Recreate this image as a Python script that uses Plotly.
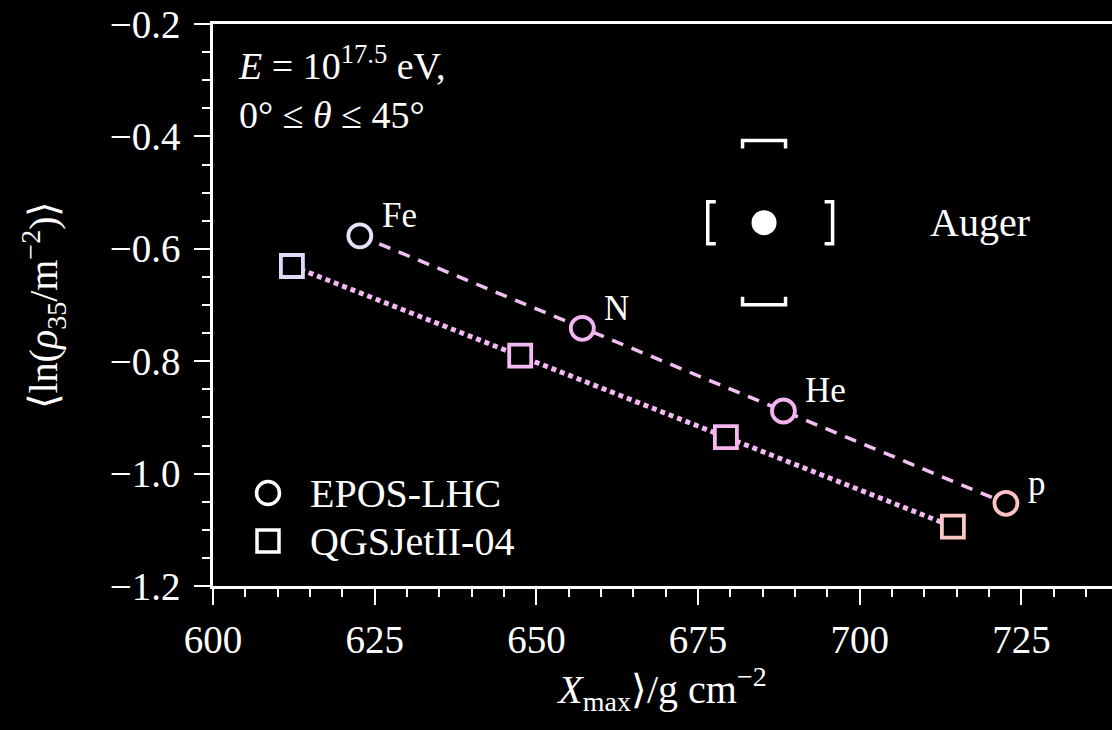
import plotly.graph_objects as go

# Mean ln(rho_35) versus Xmax for four primaries and two hadronic models
elements = ["Fe", "N", "He", "p"]
epos_xmax = [622.7, 657.1, 688.2, 722.6]
epos_lnrho = [-0.577, -0.7415, -0.8886, -1.0529]
qgs_xmax = [612.2, 647.5, 679.3, 714.4]
qgs_lnrho = [-0.6306, -0.790, -0.935, -1.0945]

# Auger measurement with systematic uncertainties
auger_xmax = 685.2
auger_lnrho = -0.5535
auger_xmax_sys_lo = 8.7
auger_xmax_sys_hi = 10.6
auger_lnrho_sys = 0.146

epos_colors = ["#e6e2fa", "#f2b6f2", "#f5b2ee", "#fcc2c6"]
qgs_colors = ["#dedaf9", "#f4baf4", "#f7b6ee", "#fcc6c4"]
line_dash_color = "#f2bff2"
line_dot_color = "#f5b8f5"

FONT = "Liberation Serif"
W, H = 1112, 730
ML, MR, MT, MB = 213, 0, 24, 144
X_RANGE = [600, 739]
Y_RANGE = [-1.2, -0.2]

fig = go.Figure()

# connecting lines
fig.add_trace(go.Scatter(x=epos_xmax, y=epos_lnrho, mode="lines",
                         line=dict(color=line_dash_color, width=3.5, dash="12px,9px"),
                         showlegend=False, hoverinfo="skip"))
fig.add_trace(go.Scatter(x=qgs_xmax, y=qgs_lnrho, mode="lines",
                         line=dict(color=line_dot_color, width=5, dash="5px,4px"),
                         showlegend=False, hoverinfo="skip"))

# model points
fig.add_trace(go.Scatter(x=epos_xmax, y=epos_lnrho, mode="markers",
                         marker=dict(symbol="circle", size=23, color="black",
                                     line=dict(color=epos_colors, width=3.8)),
                         showlegend=False))
fig.add_trace(go.Scatter(x=qgs_xmax, y=qgs_lnrho, mode="markers",
                         marker=dict(symbol="square", size=22, color="black",
                                     line=dict(color=qgs_colors, width=3.8)),
                         showlegend=False))

# Auger point with bracket-style systematic uncertainties
px_per_x = (W - ML - MR) / (X_RANGE[1] - X_RANGE[0])
px_per_y = (H - MT - MB) / (Y_RANGE[1] - Y_RANGE[0])
cap_px = 8
half_w_px = 21.5
half_h_px = 21
cx = cap_px / px_per_x
cy = cap_px / px_per_y
hw = half_w_px / px_per_x
hh = half_h_px / px_per_y

xl = auger_xmax - auger_xmax_sys_lo
xr = auger_xmax + auger_xmax_sys_hi
yt = auger_lnrho + auger_lnrho_sys
yb = auger_lnrho - auger_lnrho_sys
bx, by = [], []
# left "["
bx += [xl + cx, xl, xl, xl + cx, None]
by += [auger_lnrho + hh, auger_lnrho + hh, auger_lnrho - hh, auger_lnrho - hh, None]
# right "]"
bx += [xr - cx, xr, xr, xr - cx, None]
by += [auger_lnrho + hh, auger_lnrho + hh, auger_lnrho - hh, auger_lnrho - hh, None]
# top
bx += [auger_xmax - hw, auger_xmax - hw, auger_xmax + hw, auger_xmax + hw, None]
by += [yt - cy, yt, yt, yt - cy, None]
# bottom
bx += [auger_xmax - hw, auger_xmax - hw, auger_xmax + hw, auger_xmax + hw]
by += [yb + cy, yb, yb, yb + cy]
fig.add_trace(go.Scatter(x=bx, y=by, mode="lines",
                         line=dict(color="white", width=3.5),
                         showlegend=False, hoverinfo="skip"))
fig.add_trace(go.Scatter(x=[auger_xmax], y=[auger_lnrho], mode="markers",
                         marker=dict(symbol="circle", size=25, color="white",
                                     line=dict(width=0)),
                         showlegend=False))

annotations = []
for name, xv, yv in zip(elements, epos_xmax, epos_lnrho):
    annotations.append(dict(x=xv, y=yv, xref="x", yref="y", text=name,
                            showarrow=False, xanchor="left", yanchor="middle",
                            xshift=20, yshift=20,
                            font=dict(family=FONT, size=35, color="white")))
annotations.append(dict(x=auger_xmax, y=auger_lnrho, xref="x", yref="y", text="Auger",
                        showarrow=False, xanchor="left", yanchor="middle",
                        xshift=164, yshift=0,
                        font=dict(family=FONT, size=40, color="white")))

pw = W - ML - MR
ph = H - MT - MB


def px(xp):
    return (xp - ML) / pw


def py(yp):
    return (H - MB - yp) / ph


annotations.append(dict(x=px(236), y=py(87), xref="paper", yref="paper",
                        text="<i>E</i> = 10<sup>17.5</sup> eV,<br>0° ≤ <i>θ</i> ≤ 45°",
                        showarrow=False, align="left",
                        xanchor="left", yanchor="middle",
                        font=dict(family=FONT, size=38, color="white")))

# legend entries
legend_items = [("EPOS-LHC", "circle", 493), ("QGSJetII-04", "rect", 541)]
shapes = []
for label, kind, ypix in legend_items:
    half = 11.5 if kind == "circle" else 11
    shapes.append(dict(type=kind, xref="paper", yref="paper",
                       xsizemode="pixel", ysizemode="pixel",
                       xanchor=px(268), yanchor=py(ypix),
                       x0=-half, x1=half, y0=-half, y1=half,
                       line=dict(color="white", width=3.5), fillcolor="black"))
    annotations.append(dict(x=px(308), y=py(ypix), xref="paper", yref="paper",
                            text=label, showarrow=False,
                            xanchor="left", yanchor="middle",
                            font=dict(family=FONT, size=40, color="white")))

fig.update_layout(
    width=W, height=H,
    margin=dict(l=ML, r=MR, t=MT, b=MB, pad=0),
    paper_bgcolor="black", plot_bgcolor="black",
    font=dict(family=FONT, color="white"),
    annotations=annotations,
    shapes=shapes,
    showlegend=False,
)

fig.update_xaxes(
    range=X_RANGE, showgrid=False, zeroline=False,
    showline=True, linecolor="white", linewidth=2.5, mirror=True,
    ticks="outside", ticklen=16, tickwidth=2, tickcolor="white",
    tick0=600, dtick=25, ticklabelstandoff=1,
    minor=dict(ticks="outside", ticklen=8, tickwidth=2, tickcolor="white", dtick=5),
    tickfont=dict(family=FONT, size=39, color="white"),
    title=dict(text="<i>X</i><sub>max</sub>⟩/g cm<sup>−2</sup>",
               font=dict(family=FONT, size=40, color="white"), standoff=16),
)
fig.update_yaxes(
    range=Y_RANGE, showgrid=False, zeroline=False,
    showline=True, linecolor="white", linewidth=2.5,
    ticks="outside", ticklen=16, tickwidth=2, tickcolor="white",
    tick0=-1.2, dtick=0.2, tickformat=".1f", ticklabelstandoff=6,
    minor=dict(ticks="outside", ticklen=8, tickwidth=2, tickcolor="white", dtick=0.05),
    tickfont=dict(family=FONT, size=39, color="white"),
    title=dict(text="⟨ln(<i>ρ</i><sub>35</sub>/m<sup>−2</sup>)⟩",
               font=dict(family=FONT, size=40, color="white"), standoff=40),
)

fig.write_html("out.html")
